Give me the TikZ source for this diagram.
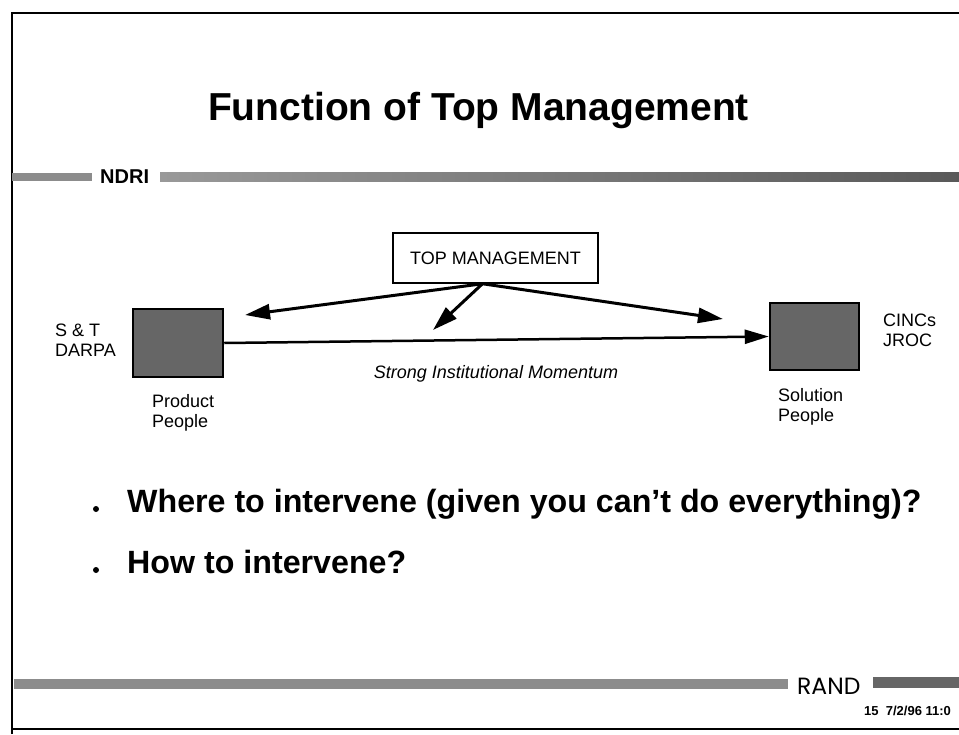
\documentclass[tikz,border=0pt]{standalone}
\usepackage{fontspec}
\setmainfont{Liberation Sans}
\newfontfamily\randfont{Poppins}
\usetikzlibrary{arrows.meta}
\begin{document}
\begin{tikzpicture}[x=1pt,y=-1pt,
  frameline/.style={line width=2pt},
  band/.style={fill=black!45, draw=none},
  tmbox/.style={draw, line width=1.5pt, minimum width=205pt, minimum height=50pt, inner sep=0pt, font=\fontsize{18}{20}\selectfont},
  peoplebox/.style={draw, line width=2.5pt, fill=black!60, inner sep=0pt},
  lbl/.style={align=left, font=\fontsize{18}{20}\selectfont, inner sep=0pt, anchor=north west},
  bigarrow/.style={line width=3pt, -{Triangle[length=25pt,width=15pt]}},
  harrow/.style={line width=2.5pt, -{Triangle[length=24pt,width=14pt]}},
  bullettext/.style={font=\fontsize{32.2}{36}\selectfont\bfseries, inner sep=0pt, anchor=base west},
  dot/.style={circle, fill, inner sep=0pt, minimum size=6pt},
  ]
\useasboundingbox (0,0) rectangle (959,734);
% frame
\draw[frameline] (12,734) -- (12,13) -- (959,13);
\draw[frameline] (12,729) -- (959,729);
% title
\node[font=\fontsize{39}{44}\selectfont\bfseries, inner sep=0pt, anchor=base] (title) at (478.5,120) {Function of Top Management};
% NDRI band
\fill[band] (12,173) rectangle (92,181);
\shade[left color=black!40, right color=black!65] (160,172) rectangle (959,181);
\node[font=\fontsize{20}{22}\selectfont\bfseries, inner sep=0pt, anchor=base west] (ndri) at (100,183) {NDRI};
% diagram
\node[tmbox] (tm) at (495.5,258) {TOP MANAGEMENT};
\node[peoplebox, minimum width=90pt, minimum height=68pt] (prod) at (178,343) {};
\node[peoplebox, minimum width=89pt, minimum height=67pt] (sol) at (814.5,336.5) {};
\coordinate (tmo) at ([xshift=-13pt]tm.south);
\coordinate (tl) at (245,315);
\coordinate (tr) at (723,319);
\coordinate (td) at (433,330);
\draw[bigarrow] (tmo) -- (tl);
\draw[bigarrow] (tmo) -- (tr);
\draw[bigarrow] (tmo) -- (td);
\draw[harrow] (prod.east) -- (sol.west);
\node[lbl] (st) at (55,324) {S \& T\\DARPA};
\node[lbl] (pp) at (152,394) {Product\\People};
\node[lbl] (sp) at (778,388) {Solution\\People};
\node[lbl] (cj) at (883,314) {CINCs\\JROC};
\node[font=\fontsize{18}{20}\selectfont\itshape, inner sep=0pt, anchor=base] (sim) at (496,378) {Strong Institutional Momentum};
% bullets
\node[dot] (b1) at (96,509) {};
\node[bullettext] (q1) at (127,512) {Where to intervene (given you can’t do everything)?};
\node[dot] (b2) at (96,570) {};
\node[bullettext] (q2) at (127,573) {How to intervene?};
% bottom band
\fill[band] (14,679) rectangle (788,689);
\fill[black!60] (873,677) rectangle (959,688);
\node[font=\fontsize{23.5}{26}\randfont, inner sep=0pt, anchor=base west] (rand) at (797,694) {RAND};
\node[font=\fontsize{13}{14}\selectfont\bfseries, inner sep=0pt, anchor=base west] (date) at (864,715) {15\ \ 7/2/96 11:0};
\end{tikzpicture}
\end{document}
